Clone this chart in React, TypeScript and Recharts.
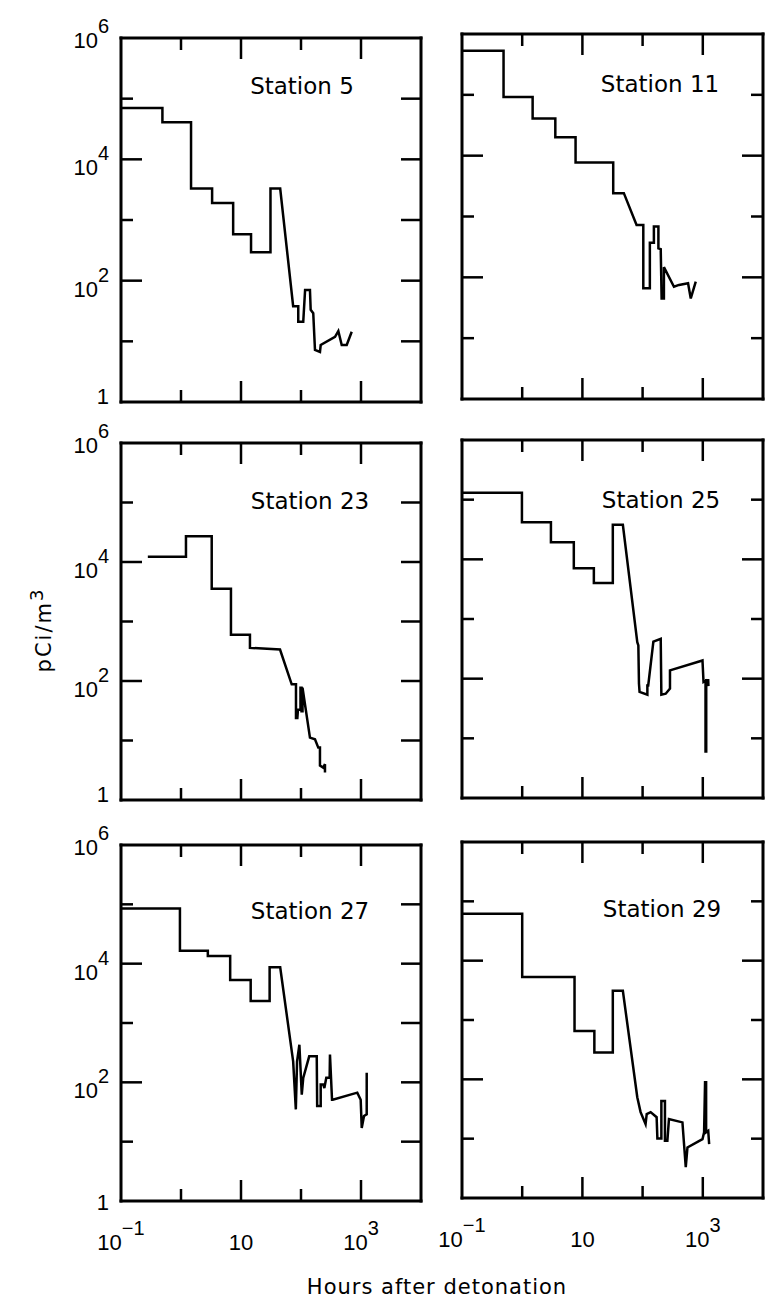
import React from "react";
import { LineChart, Line, XAxis, YAxis } from "recharts";

type Pt = [number, number];

// [hours after detonation, pCi/m3]; a step is two points at the same hour
const station5: Pt[] = [
  [0.1, 7e4], [0.49, 7e4], [0.49, 4.1e4], [1.47, 4.1e4], [1.47, 3300], [3.3, 3300],
  [3.3, 1900], [7.4, 1900], [7.4, 580], [14.7, 580], [14.7, 293], [31, 293],
  [31, 3300], [45, 3300], [74, 38], [90, 38], [90, 21], [109, 21], [117, 70],
  [141, 70], [145, 33], [160, 29], [171, 7.2], [207, 6.7], [213, 8.7], [369, 11.9],
  [419, 14.8], [477, 8.7], [578, 8.7], [700, 14.4],
];

const station11: Pt[] = [
  [0.1, 5.3e5], [0.49, 5.3e5], [0.49, 9.2e4], [1.49, 9.2e4], [1.49, 4.1e4], [3.55, 4.1e4],
  [3.55, 2.0e4], [7.7, 2.0e4], [7.7, 7700], [32.5, 7700], [32.5, 2420], [48.8, 2420],
  [79.4, 728], [102.7, 728], [102.7, 66], [132, 66], [132, 372], [154, 372],
  [154, 682], [183, 682], [183, 300], [200, 290], [207, 45], [226, 45], [226, 147],
  [332, 70], [403, 75], [569, 80], [631, 45], [764, 85],
];

const station23: Pt[] = [
  [0.28, 1.23e4], [1.21, 1.23e4], [1.21, 2.7e4], [3.25, 2.7e4], [3.25, 3550], [6.8, 3550],
  [6.8, 600], [14.1, 600], [14.1, 360], [44.7, 338], [70, 88], [82.5, 88], [82.5, 24],
  [87, 24], [89, 33], [98, 33], [98, 77], [102, 77], [102, 31], [106, 31], [106, 77],
  [141, 11.2], [171, 10.5], [194, 7.6], [207, 7.6], [207, 3.8], [235, 3.5], [251, 4.0],
  [251, 2.9],
];

const station25: Pt[] = [
  [0.1, 1.3e5], [0.99, 1.3e5], [0.99, 4.2e4], [3.0, 4.2e4], [3.0, 1.94e4], [7.2, 1.94e4],
  [7.2, 7100], [15.5, 7100], [15.5, 4000], [32, 4000], [32, 3.8e4], [47, 3.8e4],
  [81.6, 408], [85, 360], [87, 83], [89, 60], [120, 54], [120, 77], [124, 77],
  [151, 418], [200, 464], [205, 54], [242, 56], [285, 68], [285, 138], [988, 202],
  [1028, 88], [1110, 92], [1110, 6], [1140, 6], [1140, 94], [1230, 94], [1240, 75],
];

const station27: Pt[] = [
  [0.1, 8.5e4], [0.96, 8.5e4], [0.96, 1.65e4], [2.8, 1.65e4], [2.8, 1.35e4], [6.6, 1.35e4],
  [6.6, 5300], [14.5, 5300], [14.5, 2350], [30, 2350], [30, 8700], [45, 8700],
  [74, 226], [82, 35], [86, 226], [94, 430], [103, 62], [109, 119], [137, 274],
  [183, 274], [186, 40], [213, 40], [213, 92], [235, 92], [245, 80], [264, 119],
  [300, 119], [304, 293], [329, 51], [338, 51], [867, 67], [988, 51], [1028, 17],
  [1122, 27], [1245, 29], [1245, 145],
];

const station29: Pt[] = [
  [0.1, 6.2e4], [1.0, 6.2e4], [1.0, 5300], [7.4, 5300], [7.4, 650], [15.8, 650],
  [15.8, 283], [32, 283], [32, 3100], [47, 3100], [81.6, 50], [92.6, 28], [112, 17.6],
  [117, 26], [136, 28], [171, 23], [176, 10.1], [205, 10.1], [205, 43], [235, 43],
  [235, 9.2], [258, 9.2], [274, 21.4], [459, 18.8], [521, 3.3], [556, 7.1],
  [988, 9.8], [1051, 12.8], [1090, 89], [1135, 89], [1135, 12.8], [1230, 13.6],
  [1275, 8.1],
];

const X_TICKS = [0.1, 1, 10, 100, 1000, 10000];
const Y_TICKS = [1, 10, 100, 1000, 10000, 100000, 1000000];
const X_LABELS: Record<string, [string, string]> = {
  "0.1": ["10", "\u22121"],
  "10": ["10", ""],
  "1000": ["10", "3"],
};
const Y_LABELS: Record<string, [string, string]> = {
  "1": ["1", ""],
  "100": ["10", "2"],
  "10000": ["10", "4"],
  "1000000": ["10", "6"],
};

const PANELS = [
  { title: "Station 5", data: station5, x: 121, y: 38, w: 300, h: 364, tx: 181, ty: 56, col: 0, row: 0 },
  { title: "Station 11", data: station11, x: 462, y: 34, w: 301, h: 365, tx: 198, ty: 58, col: 1, row: 0 },
  { title: "Station 23", data: station23, x: 121, y: 443, w: 300, h: 357, tx: 189, ty: 66, col: 0, row: 1 },
  { title: "Station 25", data: station25, x: 462, y: 440, w: 301, h: 358, tx: 199, ty: 68, col: 1, row: 1 },
  { title: "Station 27", data: station27, x: 121, y: 845, w: 300, h: 356, tx: 189, ty: 74, col: 0, row: 2 },
  { title: "Station 29", data: station29, x: 462, y: 842, w: 301, h: 356, tx: 200, ty: 75, col: 1, row: 2 },
];

// space around each plot; every axis also takes 1px of it (axes of size 0 are not drawn)
const PAD = { top: 25, right: 2, bottom: 62, left: 70 };
const M = { top: PAD.top - 1, right: PAD.right - 1, bottom: PAD.bottom - 1, left: PAD.left - 1 };
const LONG = 21;
const SHORT = 12;
const NUM_FONT = "Liberation Sans, Arial, sans-serif";
const TXT_FONT = "DejaVu Sans, sans-serif";
const frame = { stroke: "#000", strokeWidth: 3, strokeLinecap: "square" as const };

function Sup({ lab }: { lab: [string, string] }) {
  return (
    <>
      {lab[0]}
      {lab[1] && (
        <tspan dy={-15} fontSize={20}>
          {lab[1]}
        </tspan>
      )}
    </>
  );
}

function Panel({ p }: { p: (typeof PANELS)[number] }) {
  const data = p.data.map(([h, v]) => ({ h, v }));
  const W = p.w + PAD.left + PAD.right;
  const H = p.h + PAD.top + PAD.bottom;
  const showY = p.col === 0;
  const showX = p.row === 2;

  const xTick = (side: "b" | "t") => (props: any) => {
    const v = props.payload.value;
    const edge = v === 0.1 || v === 10000;
    const len = v === 10 || v === 1000 ? LONG : SHORT;
    const dir = side === "b" ? -1 : 1;
    const lab = X_LABELS[String(v)];
    return (
      <g>
        {!edge && (
          <line x1={props.x} x2={props.x} y1={props.y} y2={props.y + dir * len} stroke="#000" strokeWidth={2.5} />
        )}
        {side === "b" && showX && lab && (
          <text x={props.x} y={props.y + 49} textAnchor="middle" fontFamily={NUM_FONT} fontSize={22} fill="#000">
            <Sup lab={lab} />
          </text>
        )}
      </g>
    );
  };

  const yTick = (side: "l" | "r") => (props: any) => {
    const v = props.payload.value;
    const edge = v === 1 || v === 1000000;
    let len = v === 100 || v === 10000 ? LONG : SHORT;
    if (side === "r" && p.col === 0) len = 20;
    const dir = side === "l" ? 1 : -1;
    const lab = Y_LABELS[String(v)];
    let dy = 16;
    if (v === 1000000) dy = 10;
    if (v === 1) dy = p.row === 2 ? 9 : 2;
    return (
      <g>
        {!edge && (
          <line x1={props.x} x2={props.x + dir * len} y1={props.y} y2={props.y} stroke="#000" strokeWidth={2.5} />
        )}
        {side === "l" && showY && lab && (
          <text x={props.x - 12} y={props.y + dy} textAnchor="end" fontFamily={NUM_FONT} fontSize={22} fill="#000">
            <Sup lab={lab} />
          </text>
        )}
      </g>
    );
  };

  const xCommon = {
    type: "number" as const,
    scale: "log" as const,
    domain: [0.1, 10000],
    allowDataOverflow: true,
    ticks: X_TICKS,
    interval: 0 as const,
    height: 1,
    tickSize: 0,
    tickMargin: 0,
    tickLine: false,
    axisLine: frame,
  };
  const yCommon = {
    type: "number" as const,
    scale: "log" as const,
    domain: [1, 1000000],
    allowDataOverflow: true,
    ticks: Y_TICKS,
    interval: 0 as const,
    width: 1,
    tickSize: 0,
    tickMargin: 0,
    tickLine: false,
    axisLine: frame,
  };

  return (
    <div style={{ position: "absolute", left: p.x - PAD.left, top: p.y - PAD.top }}>
      <LineChart width={W} height={H} data={data} margin={M}>
        <XAxis xAxisId="b" dataKey="h" orientation="bottom" {...xCommon} tick={xTick("b")} />
        <XAxis xAxisId="t" dataKey="h" orientation="top" {...xCommon} tick={xTick("t")} />
        <YAxis yAxisId="l" dataKey="v" orientation="left" {...yCommon} tick={yTick("l")} />
        <YAxis yAxisId="r" dataKey="v" orientation="right" {...yCommon} tick={yTick("r")} />
        <Line
          xAxisId="b"
          yAxisId="l"
          dataKey="v"
          type="linear"
          stroke="#000"
          strokeWidth={2.5}
          dot={false}
          isAnimationActive={false}
        />
      </LineChart>
    </div>
  );
}

export default function App() {
  return (
    <div
      style={{
        position: "absolute",
        left: 0,
        top: 0,
        width: 765,
        height: 1300,
        overflow: "hidden",
        background: "#fff",
      }}
    >
      {PANELS.map((p) => (
        <Panel key={p.title} p={p} />
      ))}
      <svg width={765} height={1300} style={{ position: "absolute", left: 0, top: 0, pointerEvents: "none" }}>
        {PANELS.map((p) => (
          <text
            key={p.title}
            x={p.x + p.tx}
            y={p.y + p.ty}
            textAnchor="middle"
            fontFamily={TXT_FONT}
            fontSize={23}
            fill="#000"
          >
            {p.title}
          </text>
        ))}
        <text x={437} y={1294} textAnchor="middle" fontFamily={TXT_FONT} fontSize={21} letterSpacing={1} fill="#000">
          Hours after detonation
        </text>
        <text
          x={51}
          y={630}
          transform="rotate(-90 51 630)"
          textAnchor="middle"
          fontFamily={TXT_FONT}
          fontSize={21}
          letterSpacing={2}
          fill="#000"
        >
          pCi/m
          <tspan dy={-8} fontSize={18}>
            3
          </tspan>
        </text>
      </svg>
    </div>
  );
}
